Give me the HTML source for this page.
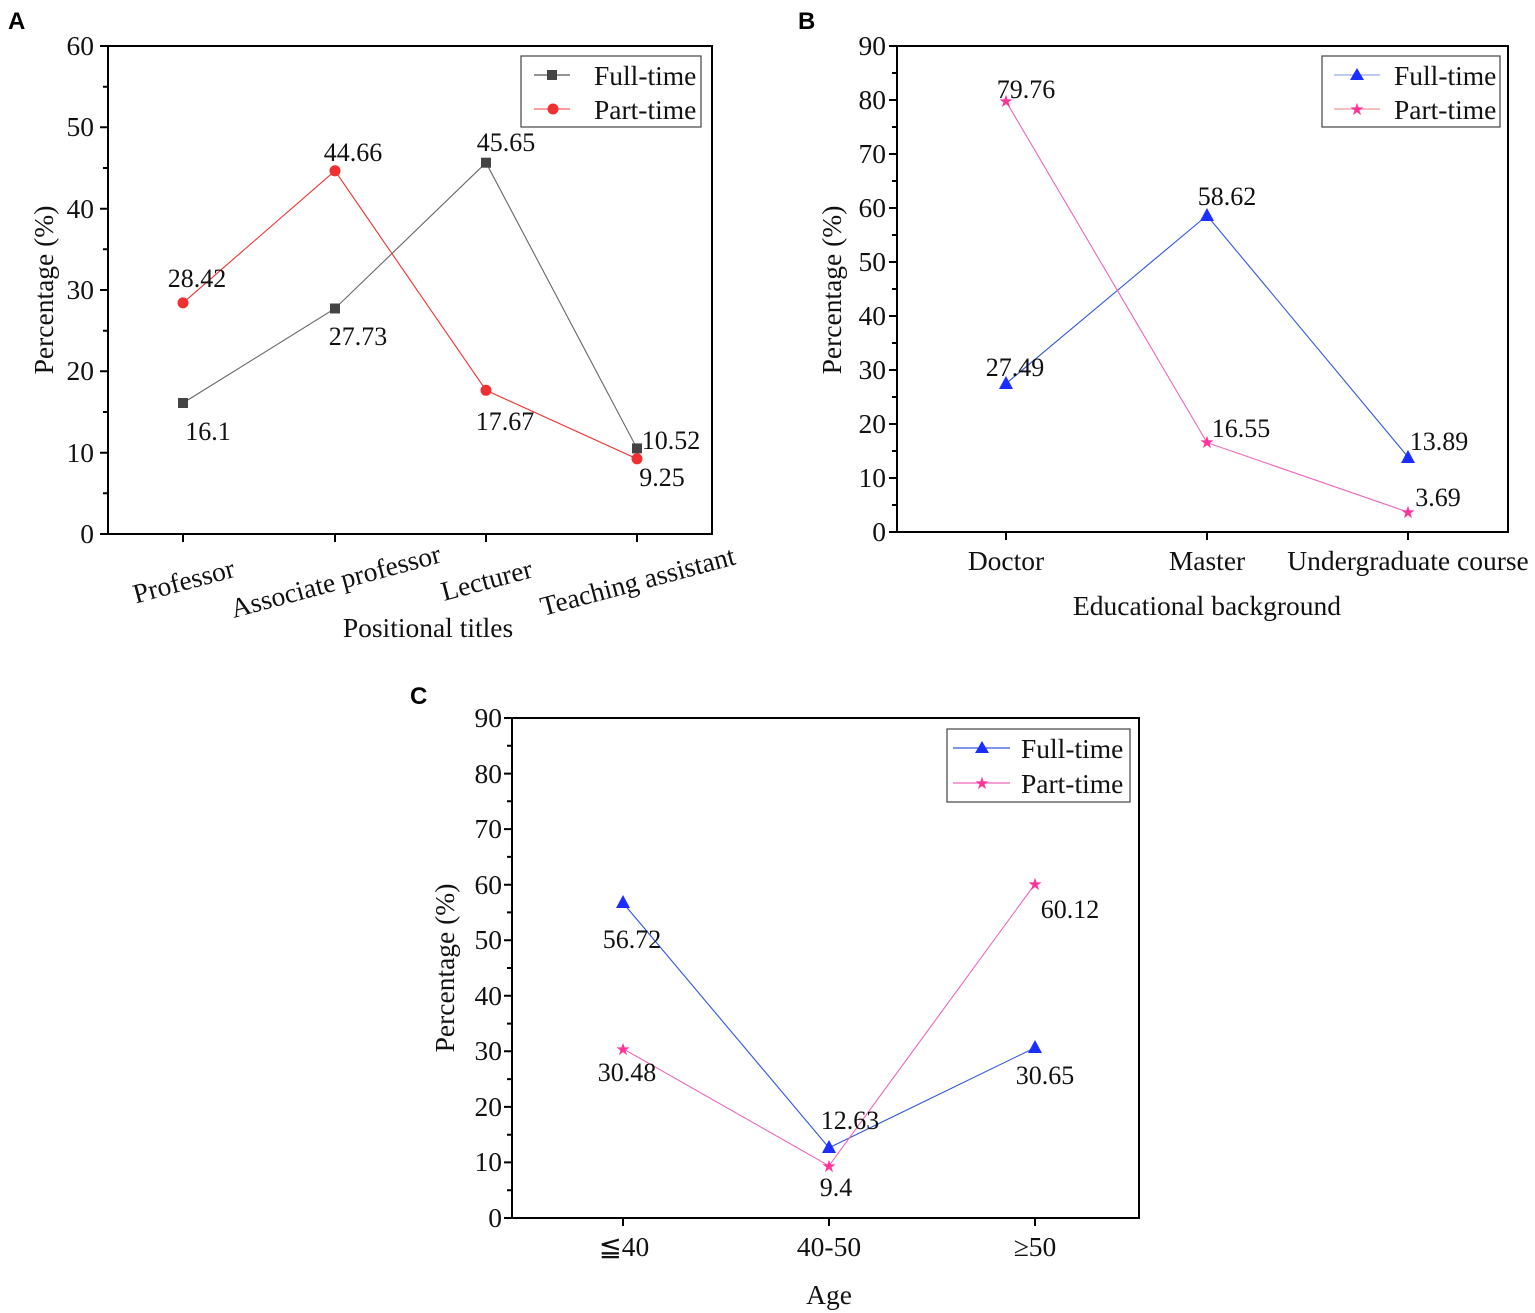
<!DOCTYPE html>
<html><head><meta charset="utf-8"><style>
body{margin:0;background:#fff}
svg{display:block;font-family:"Liberation Serif",serif}
.t{font-size:27.5px;fill:#111}
.a{font-size:26px;fill:#111}
.L{font-family:"Liberation Sans",sans-serif;font-weight:bold;font-size:24px}
</style></head><body>
<svg width="1535" height="1313" viewBox="0 0 1535 1313" xmlns="http://www.w3.org/2000/svg">
<text class="L" x="8" y="29">A</text>
<text class="L" x="798" y="29">B</text>
<text class="L" x="410" y="704">C</text>

<!-- Panel A -->
<rect x="108" y="46" width="604" height="488" fill="none" stroke="#000" stroke-width="2"/>
<path stroke="#000" stroke-width="2" d="M100 534H108M100 452.7H108M100 371.3H108M100 290H108M100 208.7H108M100 127.3H108M100 46H108M103 493.3H108M103 412H108M103 330.7H108M103 249.3H108M103 168H108M103 86.7H108M183 534V542M335 534V542M486 534V542M637 534V542"/>
<g class="t" text-anchor="end">
<text x="94" y="543">0</text><text x="94" y="462">10</text><text x="94" y="380">20</text><text x="94" y="299">30</text><text x="94" y="218">40</text><text x="94" y="136">50</text><text x="94" y="55">60</text></g>
<g class="t" text-anchor="middle">
<text transform="translate(186,590) rotate(-15)">Professor</text>
<text transform="translate(338,590) rotate(-15)">Associate professor</text>
<text transform="translate(489,589) rotate(-15)">Lecturer</text>
<text transform="translate(640,590) rotate(-15)">Teaching assistant</text>
<text x="428" y="637">Positional titles</text>
<text transform="translate(53,290) rotate(-90)">Percentage (%)</text></g>
<polyline fill="none" stroke="#666" stroke-width="1.1" points="183,403 335,308.5 486,162.7 637,448.4"/>
<polyline fill="none" stroke="#e33" stroke-width="1.1" points="183,302.9 335,170.8 486,390.3 637,458.8"/>
<g fill="#444"><rect x="178" y="398" width="10" height="10"/><rect x="330" y="303.5" width="10" height="10"/><rect x="481" y="157.7" width="10" height="10"/><rect x="632" y="443.4" width="10" height="10"/></g>
<g fill="#f03030"><circle cx="183" cy="302.9" r="5.5"/><circle cx="335" cy="170.8" r="5.5"/><circle cx="486" cy="390.3" r="5.5"/><circle cx="637" cy="458.8" r="5.5"/></g>
<g class="a" text-anchor="middle">
<text x="197" y="287">28.42</text><text x="353" y="161">44.66</text><text x="358" y="345">27.73</text><text x="208" y="440">16.1</text><text x="506" y="151">45.65</text><text x="505" y="430">17.67</text><text x="671" y="449">10.52</text><text x="662" y="486">9.25</text></g>
<rect x="521" y="56" width="180" height="71" fill="#fff" stroke="#444" stroke-width="1.2"/>
<path stroke="#555" stroke-width="1.2" d="M534 75H570"/><rect x="547" y="70" width="10" height="10" fill="#444"/>
<path stroke="#f66" stroke-width="1.2" d="M534 109H570"/><circle cx="553" cy="109" r="5.5" fill="#f03030"/>
<text class="t" x="594" y="85">Full-time</text><text class="t" x="594" y="119">Part-time</text>

<!-- Panel B -->
<rect x="897" y="46" width="611" height="486" fill="none" stroke="#000" stroke-width="2"/>
<path stroke="#000" stroke-width="2" d="M889 532H897M889 478H897M889 424H897M889 370H897M889 316H897M889 262H897M889 208H897M889 154H897M889 100H897M889 46H897M892 505H897M892 451H897M892 397H897M892 343H897M892 289H897M892 235H897M892 181H897M892 127H897M892 73H897M1006 532V540M1207 532V540M1408 532V540"/>
<g class="t" text-anchor="end">
<text x="886" y="541">0</text><text x="886" y="487">10</text><text x="886" y="433">20</text><text x="886" y="379">30</text><text x="886" y="325">40</text><text x="886" y="271">50</text><text x="886" y="217">60</text><text x="886" y="163">70</text><text x="886" y="109">80</text><text x="886" y="55">90</text></g>
<g class="t" text-anchor="middle">
<text x="1006" y="570">Doctor</text><text x="1207" y="570">Master</text><text x="1408" y="570">Undergraduate course</text>
<text x="1207" y="615">Educational background</text>
<text transform="translate(841,290) rotate(-90)">Percentage (%)</text></g>
<polyline fill="none" stroke="#3355dd" stroke-width="1.1" points="1006,383.6 1207,215.5 1408,457"/>
<polyline fill="none" stroke="#ee66bb" stroke-width="1.1" points="1006,101.3 1207,442.6 1408,512.1"/>
<g fill="#1a2eff"><polygon points="1006,376 999,389 1013,389"/><polygon points="1207,208 1200,221 1214,221"/><polygon points="1408,450 1401,463 1415,463"/></g>
<g fill="#ff3399" font-size="17" text-anchor="middle"><text x="1006" y="107">★</text><text x="1207" y="448">★</text><text x="1408" y="518">★</text></g>
<g class="a" text-anchor="middle">
<text x="1026" y="98">79.76</text><text x="1227" y="205">58.62</text><text x="1015" y="376">27.49</text><text x="1241" y="437">16.55</text><text x="1439" y="450">13.89</text><text x="1438" y="506">3.69</text></g>
<rect x="1322" y="56" width="178" height="71" fill="#fff" stroke="#444" stroke-width="1.2"/>
<path stroke="#99aaee" stroke-width="1.2" d="M1334 75H1380"/><polygon points="1357,68 1350,80 1364,80" fill="#1a2eff"/>
<path stroke="#e99" stroke-width="1.2" d="M1334 109H1380"/><text x="1357" y="115" fill="#ff3399" font-size="17" text-anchor="middle">★</text>
<text class="t" x="1394" y="85">Full-time</text><text class="t" x="1394" y="119">Part-time</text>

<!-- Panel C -->
<rect x="512" y="718" width="627" height="500" fill="none" stroke="#000" stroke-width="2"/>
<path stroke="#000" stroke-width="2" d="M504 1218H512M504 1162.4H512M504 1106.9H512M504 1051.3H512M504 995.8H512M504 940.2H512M504 884.7H512M504 829.1H512M504 773.6H512M504 718H512M507 1190.2H512M507 1134.7H512M507 1079.1H512M507 1023.6H512M507 968H512M507 912.4H512M507 856.9H512M507 801.3H512M507 745.8H512M623 1218V1226M829 1218V1226M1035 1218V1226"/>
<g class="t" text-anchor="end">
<text x="502" y="1227">0</text><text x="502" y="1171">10</text><text x="502" y="1116">20</text><text x="502" y="1060">30</text><text x="502" y="1005">40</text><text x="502" y="949">50</text><text x="502" y="894">60</text><text x="502" y="838">70</text><text x="502" y="783">80</text><text x="502" y="727">90</text></g>
<g class="t" text-anchor="middle">
<text x="624" y="1256">≦40</text><text x="829" y="1256">40-50</text><text x="1035" y="1256">≥50</text>
<text x="829" y="1304">Age</text>
<text transform="translate(454,968) rotate(-90)">Percentage (%)</text></g>
<polyline fill="none" stroke="#3355dd" stroke-width="1.1" points="623,902.9 829,1147.8 1035,1047.7"/>
<polyline fill="none" stroke="#ee66bb" stroke-width="1.1" points="623,1048.7 829,1165.8 1035,884"/>
<g fill="#1a2eff"><polygon points="623,895 616,908 630,908"/><polygon points="829,1140 822,1153 836,1153"/><polygon points="1035,1040 1028,1053 1042,1053"/></g>
<g fill="#ff3399" font-size="17" text-anchor="middle"><text x="623" y="1055">★</text><text x="829" y="1172">★</text><text x="1035" y="890">★</text></g>
<g class="a" text-anchor="middle">
<text x="632" y="948">56.72</text><text x="627" y="1081">30.48</text><text x="850" y="1129">12.63</text><text x="836" y="1196">9.4</text><text x="1070" y="918">60.12</text><text x="1045" y="1084">30.65</text></g>
<rect x="947" y="729" width="183" height="73" fill="#fff" stroke="#444" stroke-width="1.2"/>
<path stroke="#3355dd" stroke-width="1.2" d="M953 748H1010"/><polygon points="982,741 975,753 989,753" fill="#1a2eff"/>
<path stroke="#ee66bb" stroke-width="1.2" d="M953 783H1010"/><text x="982" y="789" fill="#ff3399" font-size="17" text-anchor="middle">★</text>
<text class="t" x="1021" y="758">Full-time</text><text class="t" x="1021" y="793">Part-time</text>
</svg>
</body></html>
